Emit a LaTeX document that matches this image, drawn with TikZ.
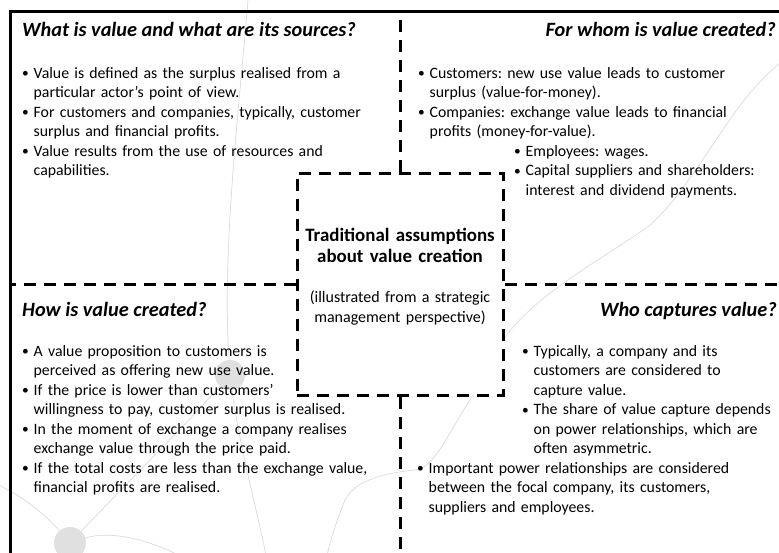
\documentclass[tikz,border=0pt]{standalone}
\usepackage{fontspec}
\setmainfont{Carlito}
\newcommand{\bodyfont}{\fontsize{15.8}{19.5}\selectfont}
\newcommand{\subfont}{\fontsize{16}{20}\selectfont}
\newcommand{\headfont}{\fontsize{20.3}{24}\selectfont\bfseries\itshape}
\newcommand{\ctfont}{\fontsize{18.9}{21.5}\selectfont\bfseries}
\newcommand{\bu}{\makebox[11.5pt][l]{\raisebox{0.3pt}{\scalebox{0.85}{•}}}}
\newcommand{\ct}{\hspace*{11.5pt}}
\begin{document}
\frenchspacing
\begin{tikzpicture}[x=1pt,y=-1pt,
  bgline/.style={draw=black!14, line width=0.7pt},
  bgdot/.style={circle, fill=black!12, draw=none, inner sep=0pt},
  frame/.style={line width=3pt},
  dsh/.style={line width=3pt, dash pattern=on 12pt off 8pt},
  txt/.style={anchor=base west, inner sep=0pt, text width=400pt, align=left, font=\bodyfont},
  headl/.style={anchor=base west, inner sep=0pt, font=\headfont},
  headr/.style={anchor=base east, inner sep=0pt, font=\headfont},
  ctr/.style={anchor=base, inner sep=0pt, text width=206pt, align=center}
]
\useasboundingbox (0,0) rectangle (779,552);
\clip (0,0) rectangle (779,552);
\fill[white] (0,0) rectangle (779,552);

% background decoration
\node[bgdot, minimum size=30pt] (dotB) at (230,375) {};
\node[bgdot, minimum size=32pt] (dotA) at (70,543) {};
\coordinate (c1) at (248,0);
\coordinate (c2) at (267,560);
\coordinate (c3) at (-5,483);
\coordinate (c4) at (180,556);
\coordinate (c5) at (784,60);
\coordinate (c6) at (327,556);
\draw[bgline] (c1) .. controls (238,120) and (222,250) .. (dotB);
\draw[bgline] (dotB) .. controls (240,450) and (255,500) .. (c2);
\draw[bgline] (dotA) .. controls (130,480) and (190,420) .. (dotB);
\draw[bgline] (c3) .. controls (30,500) and (50,520) .. (dotA);
\draw[bgline] (dotA) .. controls (110,530) and (150,540) .. (c4);
\draw[bgline] (c5) .. controls (730,100) and (700,180) .. (650,225)
   .. controls (610,255) and (540,290) .. (505,337)
   .. controls (490,360) .. (473,395)
   .. controls (450,430) and (435,468) .. (415,470)
   .. controls (385,473) and (355,480) .. (345,500)
   .. controls (337,520) and (330,540) .. (c6);

% frame
\draw[frame] (10,580) -- (10,11) -- (800,11);

% central box and dashed dividers
\node[draw, dsh, fill=white, minimum width=206pt, minimum height=222pt, inner sep=0pt] (core) at (400,284) {};
\coordinate (tm) at (400,11);
\coordinate (bm) at (400,560);
\coordinate (lm) at (10,284);
\coordinate (rm) at (790,284);
\draw[dsh] (core.north) -- (tm);
\draw[dsh] (core.south) -- (bm);
\draw[dsh] (core.west) -- (lm);
\draw[dsh] (core.east) -- (rm);

% central text
\node[ctr, font=\ctfont] (ctitle) at (400,241) {Traditional assumptions\\about value creation};
\node[ctr, font=\subfont] (csub) at (400,302) {(illustrated from a strategic\\management perspective)};

% top left
\node[headl] (tlhead) at (22,36) {What is value and what are its sources?};
\node[txt] (tlbody) at (22,78) {\bu Value is defined as the surplus realised from a\\
\ct particular actor’s point of view.\\
\bu For customers and companies, typically, customer\\
\ct surplus and financial profits.\\
\bu Value results from the use of resources and\\
\ct capabilities.};

% top right
\node[headr] (trhead) at (776,36) {For whom is value created?};
\node[txt] (trbody) at (418,78) {\bu Customers: new use value leads to customer\\
\ct surplus (value-for-money).\\
\bu Companies: exchange value leads to financial\\
\ct profits (money-for-value).\\
\hspace*{96pt}\bu Employees: wages.\\
\hspace*{96pt}\bu Capital suppliers and shareholders:\\
\hspace*{96pt}\ct interest and dividend payments.};

% bottom left
\node[headl] (blhead) at (22,316) {How is value created?};
\node[txt] (blbody) at (22,356) {\bu A value proposition to customers is\\
\ct perceived as offering new use value.\\
\bu If the price is lower than customers’\\
\ct willingness to pay, customer surplus is realised.\\
\bu In the moment of exchange a company realises\\
\ct exchange value through the price paid.\\
\bu If the total costs are less than the exchange value,\\
\ct financial profits are realised.};

% bottom right
\node[headr] (brhead) at (777,316) {Who captures value?};
\node[txt] (brbody) at (522,356) {\bu Typically, a company and its\\
\ct customers are considered to\\
\ct capture value.\\
\bu The share of value capture depends\\
\ct on power relationships, which are\\
\ct often asymmetric.};
\node[txt] (brbody2) at (417,473) {\bu Important power relationships are considered\\
\ct between the focal company, its customers,\\
\ct suppliers and employees.};
\end{tikzpicture}
\end{document}
